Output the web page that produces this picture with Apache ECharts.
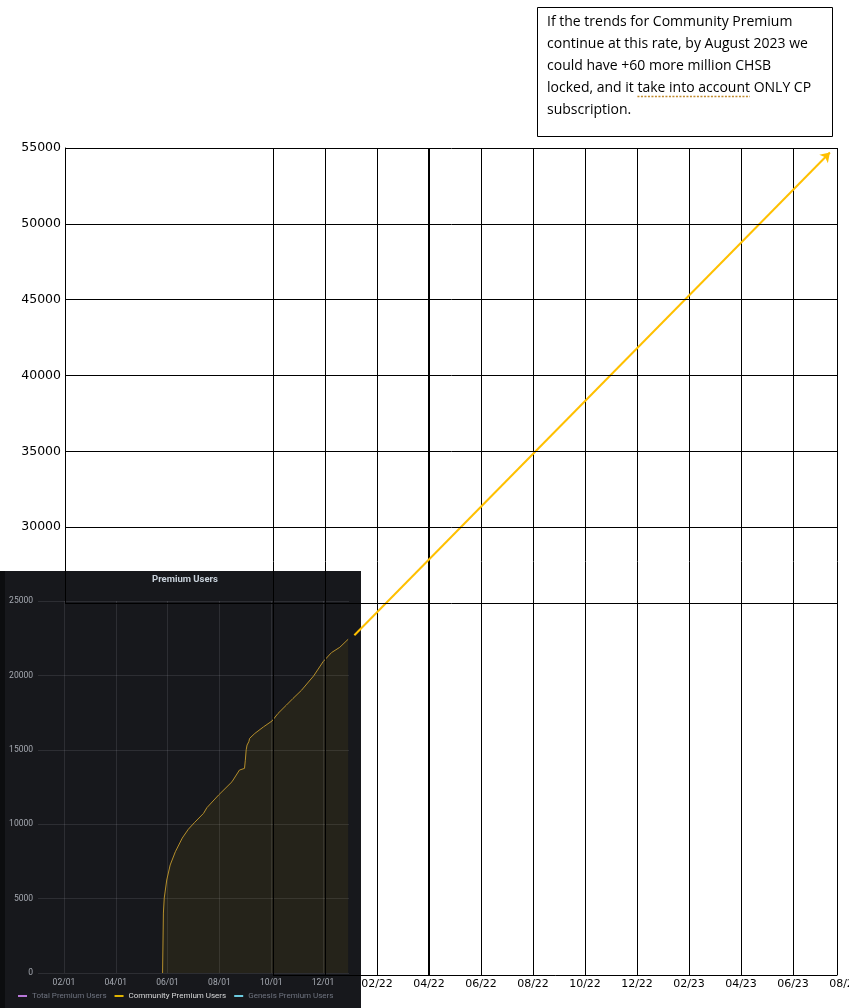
<!DOCTYPE html>
<html><head><meta charset="utf-8">
<script src="https://cdn.jsdelivr.net/npm/echarts@6/dist/echarts.min.js"></script>
<style>html,body{margin:0;padding:0;background:#fff}#c{width:849px;height:1008px}</style>
</head><body><div id="c"></div>
<script>
// ---------------- data ----------------
const insetTitle = 'Premium Users';
const insetSeriesNames = ['Total Premium Users', 'Community Premium Users', 'Genesis Premium Users'];
const insetTickDates = ['2021-02-01', '2021-04-01', '2021-06-01', '2021-08-01', '2021-10-01', '2021-12-01'];
const insetTickLabels = ['02/01', '04/01', '06/01', '08/01', '10/01', '12/01'];
const communityDates = ['2021-05-26', '2021-05-27', '2021-05-28', '2021-05-31', '2021-06-04', '2021-06-10',
  '2021-06-18', '2021-06-25', '2021-07-02', '2021-07-13', '2021-07-17', '2021-07-31', '2021-08-16',
  '2021-08-25', '2021-08-31', '2021-09-01', '2021-09-02', '2021-09-03', '2021-09-05', '2021-09-06',
  '2021-09-12', '2021-09-22', '2021-10-02', '2021-10-09', '2021-10-19', '2021-10-27', '2021-11-06',
  '2021-11-16', '2021-11-20', '2021-12-01', '2021-12-11', '2021-12-21', '2021-12-31'];
const communityValues = [0, 4030, 5040, 6250, 7260, 8150,
  9070, 9660, 10100, 10730, 11110, 11960, 12850,
  13640, 13750, 14300, 15000, 15320, 15540, 15770,
  16100, 16540, 16940, 17440, 18000, 18450, 19000,
  19690, 19960, 20920, 21530, 21890, 22430];

const forecastTickDates = ['2022-02-01', '2022-04-01', '2022-06-01', '2022-08-01', '2022-10-01', '2022-12-01',
  '2023-02-01', '2023-04-01', '2023-06-01', '2023-08-01'];
const forecastTickLabels = ['02/22', '04/22', '06/22', '08/22', '10/22', '12/22', '02/23', '04/23', '06/23', '08/23'];
const boxLineDates = ['2021-10-01', '2021-12-01', '2022-02-01', '2022-04-01', '2022-06-01', '2022-08-01',
  '2022-10-01', '2022-12-01', '2023-02-01', '2023-04-01', '2023-06-01'];
const boxRightEdgeDate = '2023-07-23';
const arrowFrom = ['2022-01-05', 22600];
const arrowTo = ['2023-07-14', 54700];

const noteLines = [
  'If the trends for Community Premium',
  'continue at this rate, by August 2023 we',
  'could have +60 more million CHSB',
  'locked, and it take into account ONLY CP',
  'subscription.'
];
const flaggedPhrase = 'take into account';

// ---------------- helpers ----------------
function monthsSince(dateStr, baseY, baseM) {
  const p = dateStr.split('-').map(Number);
  const dim = new Date(Date.UTC(p[0], p[1], 0)).getUTCDate();
  return (p[0] - baseY) * 12 + (p[1] - baseM) + (p[2] - 1) / dim;
}
const insetM = d => monthsSince(d, 2021, 1);   // 0 = 2021-01-01
const mainM = d => monthsSince(d, 2021, 10);   // 0 = 2021-10-01

const insetLabelMap = {};
insetTickDates.forEach((d, i) => { insetLabelMap[Math.round(insetM(d))] = insetTickLabels[i]; });
const mainLabelMap = {};
forecastTickDates.forEach((d, i) => { mainLabelMap[Math.round(mainM(d))] = forecastTickLabels[i]; });

const communityData = communityDates.map((d, i) => [insetM(d), communityValues[i]]);
const rightEdge = mainM(boxRightEdgeDate);

const boxLines = boxLineDates.map(d => {
  const m = mainM(d);
  return { xAxis: m, lineStyle: { color: '#000', width: (d === '2022-04-01') ? 2 : 1, type: 'solid' } };
});
boxLines.push({ xAxis: rightEdge, lineStyle: { color: '#000', width: 1, type: 'solid' } });
const bottomLine = [{ coord: [mainM(boxLineDates[0]), 0] }, { coord: [rightEdge, 0] }];

const insetGrid = 'rgba(204,204,220,0.12)';
const plain = v => String(v);

// note text layout: place the squiggle under the flagged phrase
const noteFont = '14px "Open Sans"';
const noteX = 547, noteY = 11, noteLH = 22;
const mctx = document.createElement('canvas').getContext('2d');
mctx.font = noteFont;
const flagLine = noteLines.findIndex(l => l.indexOf(flaggedPhrase) >= 0);
const flagStart = noteX + mctx.measureText(noteLines[flagLine].slice(0, noteLines[flagLine].indexOf(flaggedPhrase))).width;
const flagEnd = flagStart + mctx.measureText(flaggedPhrase).width;
const flagY = noteY + noteLH * flagLine + 19.5;

const chart = echarts.init(document.getElementById('c'), null, { renderer: 'canvas' });
chart.setOption({
  animation: false,
  backgroundColor: '#ffffff',
  grid: [
    { left: 65, right: 11, top: 148, bottom: 405, outerBoundsMode: 'none', containLabel: false },
    { left: 38, right: 500, top: 601, bottom: 35, outerBoundsMode: 'none', containLabel: false },
    { left: 65, right: 4, top: 148, bottom: 33, outerBoundsMode: 'none', containLabel: false }
  ],
  xAxis: [
    { gridIndex: 0, type: 'value', min: 0, max: 1, show: false },
    {
      gridIndex: 1, type: 'value', min: 0, max: 12, z: 2,
      axisLine: { show: false },
      axisTick: { show: false, customValues: insetTickDates.map(insetM) },
      axisLabel: {
        customValues: insetTickDates.map(insetM),
        formatter: v => insetLabelMap[Math.round(v)] || '',
        color: '#a5a9b1', fontSize: 8.5, fontFamily: 'Roboto', margin: 5
      },
      splitLine: { show: true, lineStyle: { color: insetGrid, width: 1 } }
    },
    {
      gridIndex: 2, type: 'value', min: -8, max: 22, interval: 2, z: 10,
      axisLine: { show: false }, axisTick: { show: false }, splitLine: { show: false },
      axisLabel: {
        formatter: v => mainLabelMap[Math.round(v)] || '',
        color: '#000', fontSize: 11, fontFamily: 'DejaVu Sans', margin: 4
      }
    }
  ],
  yAxis: [
    {
      gridIndex: 0, type: 'value', min: 25000, max: 55000, interval: 5000, z: 10,
      axisLine: { show: true, lineStyle: { color: '#000', width: 1 } },
      axisTick: { show: false },
      axisLabel: { showMinLabel: false, formatter: plain, color: '#000', fontSize: 12.5, fontFamily: 'DejaVu Sans', margin: 4 },
      splitLine: { show: true, lineStyle: { color: '#000', width: 1 } }
    },
    {
      gridIndex: 1, type: 'value', min: 0, max: 25000, interval: 5000, z: 2,
      axisLine: { show: false }, axisTick: { show: false },
      axisLabel: { formatter: plain, color: '#a5a9b1', fontSize: 8.5, fontFamily: 'Roboto', margin: 5 },
      splitLine: { show: true, lineStyle: { color: insetGrid, width: 1 } }
    },
    { gridIndex: 2, type: 'value', min: 0, max: 55000, show: false }
  ],
  legend: {
    left: 18, top: 992, padding: 0, z: 4, selectedMode: false,
    icon: 'rect', itemWidth: 9, itemHeight: 2, itemGap: 8,
    textStyle: { fontSize: 8, fontFamily: 'Roboto', color: '#6f7480' },
    data: [
      { name: insetSeriesNames[0], itemStyle: { color: '#b877d9' }, textStyle: { color: '#6f7480' } },
      { name: insetSeriesNames[1], itemStyle: { color: '#e0b400' }, textStyle: { color: '#d8d9da' } },
      { name: insetSeriesNames[2], itemStyle: { color: '#6ccbe0' }, textStyle: { color: '#6f7480' } }
    ]
  },
  graphic: [
    { type: 'rect', z: 1, silent: true, shape: { x: 0, y: 571, width: 361, height: 437 }, style: { fill: '#17181c' } },
    { type: 'rect', z: 1, silent: true, shape: { x: 0, y: 571, width: 5, height: 437 }, style: { fill: '#0c0d0f' } },
    { type: 'text', z: 4, silent: true, x: 185, y: 580,
      style: { text: insetTitle, fill: '#c7d0d9', font: 'bold 9.5px Roboto', align: 'center', verticalAlign: 'middle', textAlign: 'center', textVerticalAlign: 'middle' } },
    { type: 'rect', z: 12, silent: true, shape: { x: 537.5, y: 7.5, width: 295, height: 129 }, style: { fill: '#fff', stroke: '#000', lineWidth: 1 } },
    { type: 'text', z: 13, silent: true, x: noteX, y: noteY,
      style: { text: noteLines.join('\n'), fill: '#000', font: noteFont, lineHeight: noteLH } },
    { type: 'line', z: 13, silent: true, shape: { x1: flagStart, y1: flagY, x2: flagEnd, y2: flagY },
      style: { stroke: '#c08a2e', lineWidth: 1.3, lineDash: [2, 1.5] } }
  ],
  series: [
    { name: insetSeriesNames[0], type: 'line', xAxisIndex: 1, yAxisIndex: 1, data: [], itemStyle: { color: '#b877d9' }, z: 3 },
    {
      name: insetSeriesNames[1], type: 'line', xAxisIndex: 1, yAxisIndex: 1, z: 3,
      data: communityData, showSymbol: false, smooth: false,
      itemStyle: { color: '#e0b400' },
      lineStyle: { color: '#b58f2c', width: 1 },
      areaStyle: { color: 'rgba(224,180,0,0.1)' }
    },
    { name: insetSeriesNames[2], type: 'line', xAxisIndex: 1, yAxisIndex: 1, data: [], itemStyle: { color: '#6ccbe0' }, z: 3 },
    {
      name: 'frame', type: 'line', xAxisIndex: 2, yAxisIndex: 2, data: [], z: 10, silent: true,
      markLine: {
        silent: true, symbol: ['none', 'none'], label: { show: false },
        lineStyle: { color: '#000', width: 1, type: 'solid' },
        data: boxLines.concat([bottomLine])
      }
    },
    {
      name: 'trend', type: 'line', xAxisIndex: 2, yAxisIndex: 2, data: [], z: 12, silent: true,
      markLine: {
        silent: true, symbol: ['none', 'arrow'], symbolSize: 9, label: { show: false },
        lineStyle: { color: '#ffc000', width: 2, type: 'solid' },
        data: [[{ coord: [mainM(arrowFrom[0]), arrowFrom[1]] }, { coord: [mainM(arrowTo[0]), arrowTo[1]] }]]
      }
    }
  ]
});
</script>
</body></html>
